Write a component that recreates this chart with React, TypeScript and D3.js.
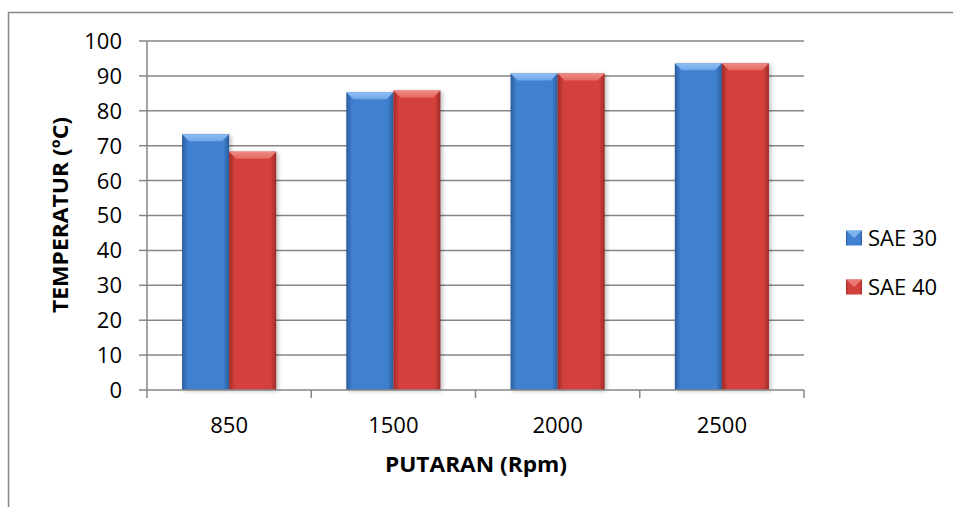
import React, { useEffect, useRef } from "react"
import * as d3 from "d3"

// data
const categories = ["850", "1500", "2000", "2500"]
const seriesNames = ["SAE 30", "SAE 40"]
const sae30 = [73.3, 85.3, 90.7, 93.6]
const sae40 = [68.3, 85.8, 90.7, 93.6]
const yTicks = [0, 10, 20, 30, 40, 50, 60, 70, 80, 90, 100]

const colors = [
  { main: "#3f80cf", light: "#6ea6e8", dark: "#2a5c9c", top: "#8fc0f5" },
  { main: "#d4403b", light: "#e46a63", dark: "#9e2b28", top: "#f08a84" },
]

export default function App() {
  const ref = useRef<SVGSVGElement>(null)

  useEffect(() => {
    const svg = d3.select(ref.current)
    svg.selectAll("*").remove()

    const font = "'Open Sans', Lato, sans-serif"
    const left = 147, right = 804, top = 41, bottom = 390

    const x0 = d3.scaleBand<string>().domain(categories).range([left, right]).padding(0)
    const x1 = d3.scaleBand<string>().domain(seriesNames).range([0, x0.bandwidth()]).paddingInner(0).paddingOuter(0.745)
    const y = d3.scaleLinear().domain([0, 100]).range([bottom, top])

    const defs = svg.append("defs")
    colors.forEach((c, i) => {
      const g = defs.append("linearGradient").attr("id", "bar" + i).attr("x1", "0").attr("x2", "1").attr("y1", "0").attr("y2", "0")
      g.append("stop").attr("offset", "0").attr("stop-color", c.dark)
      g.append("stop").attr("offset", "0.12").attr("stop-color", c.main)
      g.append("stop").attr("offset", "0.88").attr("stop-color", c.main)
      g.append("stop").attr("offset", "1").attr("stop-color", c.dark)
      const t = defs.append("linearGradient").attr("id", "top" + i).attr("x1", "0").attr("x2", "0").attr("y1", "0").attr("y2", "1")
      t.append("stop").attr("offset", "0").attr("stop-color", c.top)
      t.append("stop").attr("offset", "1").attr("stop-color", c.light)
    })
    const blur = defs.append("filter").attr("id", "shadow").attr("x", "-20%").attr("y", "-20%").attr("width", "150%").attr("height", "150%")
    blur.append("feGaussianBlur").attr("stdDeviation", 2)

    // outer chart border (left + top)
    svg.append("path").attr("d", "M8.5,507 L8.5,12.5 L953,12.5").attr("fill", "none").attr("stroke", "#868686").attr("stroke-width", 1.5)

    // grid
    svg.append("g").selectAll("line").data(yTicks.filter(d => d > 0)).join("line")
      .attr("x1", left).attr("x2", right)
      .attr("y1", d => y(d)).attr("y2", d => y(d))
      .attr("stroke", "#868686").attr("stroke-width", 1.5)

    // y axis
    const ya = svg.append("g")
    ya.append("line").attr("x1", left).attr("x2", left).attr("y1", top).attr("y2", bottom).attr("stroke", "#868686").attr("stroke-width", 1.5)
    ya.selectAll(".tk").data(yTicks).join("line").attr("class", "tk")
      .attr("x1", left - 8).attr("x2", left).attr("y1", d => y(d)).attr("y2", d => y(d))
      .attr("stroke", "#868686").attr("stroke-width", 1.5)
    ya.selectAll("text").data(yTicks).join("text")
      .attr("x", 122).attr("y", d => y(d)).attr("dy", "0.36em")
      .attr("text-anchor", "end").attr("font-family", font).attr("font-size", 22).attr("fill", "#000")
      .text(d => d)

    // bars
    const groups = svg.append("g").selectAll("g").data(categories).join("g")
      .attr("transform", d => `translate(${x0(d)},0)`)
    const rows = (c: string, ci: number) => [sae30[ci], sae40[ci]].map((v, si) => ({ c, v, si }))
    groups.each(function (c, ci) {
      const g = d3.select(this)
      const data = rows(c, ci)
      // shadow
      g.selectAll(".sh").data(data).join("rect").attr("class", "sh")
        .attr("x", d => x1(seriesNames[d.si])! + 2).attr("y", d => y(d.v) + 1)
        .attr("width", x1.bandwidth()).attr("height", d => bottom - y(d.v))
        .attr("fill", "#000").attr("opacity", 0.25).attr("filter", "url(#shadow)")
      g.selectAll(".bar").data(data).join("rect").attr("class", "bar")
        .attr("x", d => x1(seriesNames[d.si])!).attr("y", d => y(d.v))
        .attr("width", x1.bandwidth()).attr("height", d => bottom - y(d.v))
        .attr("fill", d => `url(#bar${d.si})`)
      // top bevel
      const bw = x1.bandwidth(), bv = 7
      g.selectAll(".bev").data(data).join("path").attr("class", "bev")
        .attr("d", d => {
          const xs = x1(seriesNames[d.si])!, yt = y(d.v)
          return `M${xs},${yt} L${xs + bw},${yt} L${xs + bw - bv},${yt + bv} L${xs + bv},${yt + bv} Z`
        })
        .attr("fill", d => `url(#top${d.si})`)
    })

    // x axis
    const xa = svg.append("g")
    xa.append("line").attr("x1", left).attr("x2", right).attr("y1", bottom).attr("y2", bottom).attr("stroke", "#868686").attr("stroke-width", 1.5)
    const bounds = categories.map(c => x0(c)!).concat([right])
    xa.selectAll(".tk").data(bounds).join("line").attr("class", "tk")
      .attr("x1", d => d).attr("x2", d => d).attr("y1", bottom).attr("y2", bottom + 8)
      .attr("stroke", "#868686").attr("stroke-width", 1.5)
    xa.selectAll("text").data(categories).join("text")
      .attr("x", d => x0(d)! + x0.bandwidth() / 2).attr("y", 433)
      .attr("text-anchor", "middle").attr("font-family", font).attr("font-size", 22).attr("fill", "#000")
      .text(d => d)

    // axis titles
    svg.append("text").attr("x", 476).attr("y", 472).attr("text-anchor", "middle")
      .attr("font-family", font).attr("font-size", 21).attr("font-weight", "bold")
      .attr("textLength", 182).attr("lengthAdjust", "spacingAndGlyphs").text("PUTARAN (Rpm)")
    svg.append("text").attr("transform", "translate(68,215) rotate(-90)").attr("text-anchor", "middle")
      .attr("font-family", font).attr("font-size", 21).attr("font-weight", "bold")
      .attr("textLength", 196).attr("lengthAdjust", "spacingAndGlyphs").text("TEMPERATUR (ºC)")

    // legend
    const lg = svg.append("g").selectAll("g").data(seriesNames).join("g")
      .attr("transform", (d, i) => `translate(846,${238 + i * 49})`)
    lg.append("rect").attr("x", 0).attr("y", -7.5).attr("width", 16).attr("height", 15)
      .attr("fill", (d, i) => `url(#bar${i})`)
    lg.append("path").attr("d", "M0,-7.5 L16,-7.5 L8,0 Z").attr("fill", (d, i) => colors[i].top).attr("opacity", 0.8)
    lg.append("text").attr("x", 22).attr("dy", "0.36em").attr("font-family", font).attr("font-size", 22).text(d => d)
  }, [])

  return (
    <div>
      <svg ref={ref} width={953} height={507} style={{ position: "absolute", left: 0, top: 0, background: "#fff" }} />
    </div>
  )
}
